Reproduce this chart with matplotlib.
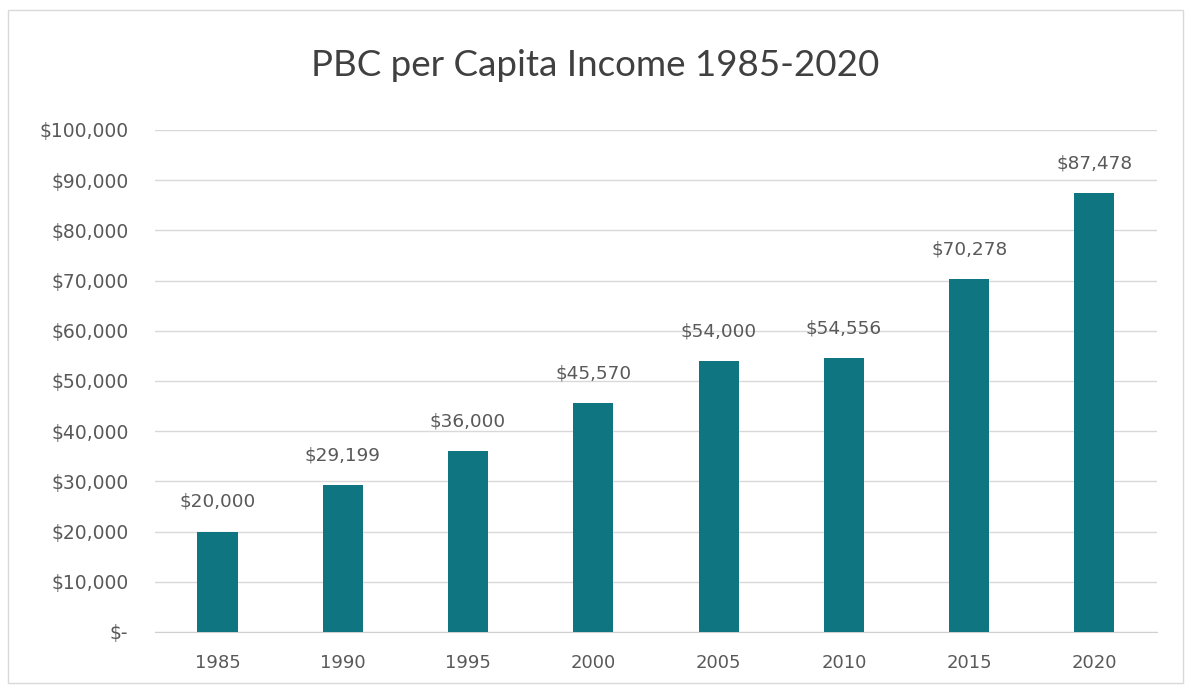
import matplotlib.pyplot as plt
from matplotlib.patches import Rectangle
from matplotlib.ticker import FuncFormatter

plt.rcParams['font.family'] = ['DejaVu Sans']

# data
years = ['1985', '1990', '1995', '2000', '2005', '2010', '2015', '2020']
income = [20000, 29199, 36000, 45570, 54000, 54556, 70278, 87478]
yticks = list(range(0, 100001, 10000))

bar_color = '#0f7580'
text_color = '#595959'

fig = plt.figure(figsize=(11.91, 6.91), dpi=100)
ax = fig.add_axes([0.130, 0.0854, 0.8415, 0.7265])

x = range(len(years))
bars = ax.bar(x, income, width=0.32, color=bar_color, zorder=3)

for b, v in zip(bars, income):
    ax.annotate(f'${v:,}', (b.get_x() + b.get_width() / 2, v),
                xytext=(0, 15), textcoords='offset points',
                ha='center', va='bottom', fontsize=13.3, color=text_color)

ax.set_xlim(-0.5, len(years) - 0.5)
ax.set_ylim(0, 100000)
ax.set_yticks(yticks)
ax.yaxis.set_major_formatter(FuncFormatter(lambda v, p: '$-' if v == 0 else f'${int(v):,}'))
ax.set_xticks(list(x))
ax.set_xticklabels(years)

ax.grid(axis='y', color='#d9d9d9', linewidth=1, zorder=0)
for s in ['top', 'right', 'left']:
    ax.spines[s].set_visible(False)
ax.spines['bottom'].set_color('#d0d0d0')
ax.tick_params(axis='both', length=0, colors=text_color)
ax.tick_params(axis='x', pad=16, labelsize=13)
ax.tick_params(axis='y', pad=19, labelsize=13.5)

fig.text(0.5, 0.905, 'PBC per Capita Income 1985-2020', ha='center', va='center',
         fontsize=26.5, color='#404040', family=['Lato', 'DejaVu Sans'])

fig.patches.append(Rectangle((0.007, 0.012), 0.986, 0.973, transform=fig.transFigure,
                             fill=False, edgecolor='#d9d9d9', linewidth=1))

plt.savefig('out.png', dpi=100)
